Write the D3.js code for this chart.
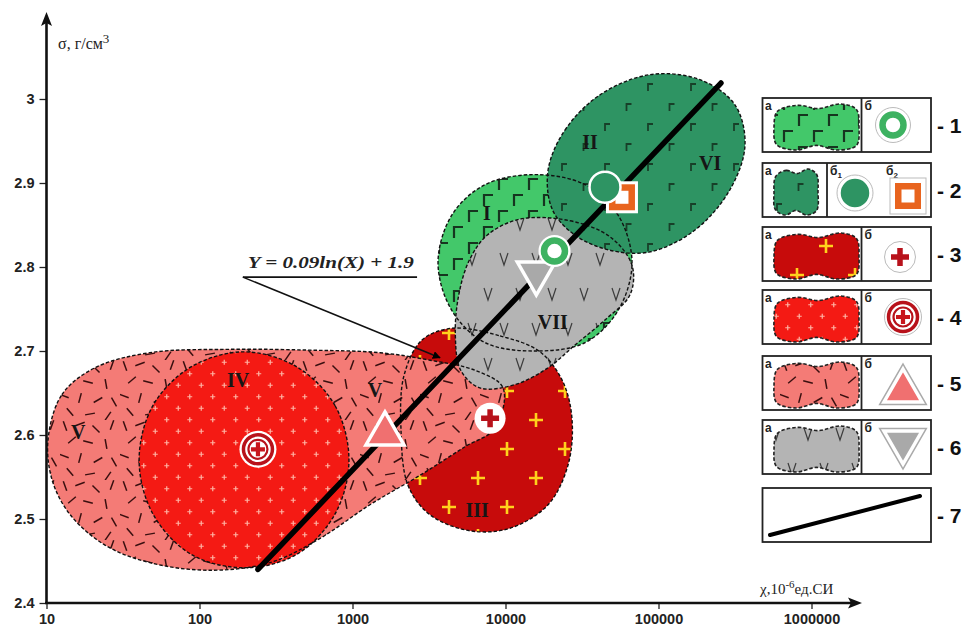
<!DOCTYPE html>
<html><head><meta charset="utf-8">
<script src="https://cdn.jsdelivr.net/npm/d3@7"></script>
<style>body{margin:0;background:#fff}svg{display:block}</style>
</head><body>
<script>
// ---------- DATA ----------
const xTicks = [10, 100, 1000, 10000, 100000, 1000000];
const xTickLabels = ["10", "100", "1000", "10000", "100000", "1000000"];
const yTicks = [2.4, 2.5, 2.6, 2.7, 2.8, 2.9, 3.0];
const yTickLabels = ["2.4", "2.5", "2.6", "2.7", "2.8", "2.9", "3"];

// region outlines [chi, sigma]
const regionIII = [[4467,2.727],[9200,2.718],[16800,2.699],[23770,2.663],[27230,2.618],[25600,2.564],[18970,2.517],[10690,2.489],[5860,2.486],[3213,2.505],[2306,2.540],[2075,2.606],[2172,2.671],[2845,2.713]];
const regionV = [[10.23,2.594],[12.6,2.648],[20.7,2.680],[47.4,2.698],[158,2.702],[527,2.701],[1514,2.698],[3213,2.689],[6323,2.677],[9640,2.656],[8530,2.608],[5430,2.586],[2762,2.552],[1300,2.517],[614,2.477],[289,2.448],[117,2.439],[47.4,2.448],[24.1,2.469],[14.3,2.505],[10.9,2.546]];
const regionIV = [[948,2.570],[769,2.635],[433,2.681],[195,2.699],[88,2.681],[49.6,2.635],[40.3,2.570],[49.6,2.506],[88,2.458],[195,2.442],[433,2.458],[769,2.506]];
const regionI = [[67140,2.805],[54330,2.862],[33130,2.898],[15600,2.910],[7350,2.898],[4467,2.862],[3622,2.805],[4467,2.748],[7350,2.710],[15600,2.700],[33130,2.710],[54330,2.748]];
const regionVII = [[12440,2.857],[26420,2.855],[48170,2.836],[67140,2.802],[65150,2.767],[44670,2.737],[28440,2.707],[18970,2.680],[11530,2.660],[6810,2.656],[5100,2.677],[4700,2.719],[4950,2.767],[5800,2.808],[7600,2.838]];
const regionVI = [[18970,2.915],[24470,2.963],[41470,3.005],[87900,3.029],[186700,3.023],[316000,2.993],[367500,2.945],[293000,2.892],[173300,2.844],[87900,2.818],[48170,2.820],[28440,2.838],[20280,2.868]];

// region numerals
const romanText = ["I", "II", "VI", "VII", "III", "IV", "V", "V"];
const romanChi = [7570, 35640, 217300, 20400, 6520, 178.6, 16.1, 1403];
const romanSigma = [2.864, 2.949, 2.924, 2.735, 2.511, 2.665, 2.604, 2.654];

// point symbols [chi, sigma]
const point1b = [20900, 2.819];
const point2b1 = [44700, 2.895];
const point2b2 = [57700, 2.883];
const point3b = [7930, 2.620];
const point4b = [241, 2.583];
const point5b = [1630, 2.606];
const point6b = [15900, 2.788];

// regression line Y = 0.09ln(X) + 1.9 (as drawn)
const trendChi = [241, 255900];
const trendSigma = [2.44, 3.019];
const formulaText = "Y = 0.09ln(X) + 1.9";
const formulaAnchor = [192, 2.788];
const formulaEnd = [2642, 2.788];
const formulaTarget = [3733, 2.692];

const legendNumbers = ["- 1", "- 2", "- 3", "- 4", "- 5", "- 6", "- 7"];

// ---------- COLOURS ----------
const C = {
  lgreen: "#43C86A", dgreen: "#2E9463", gray: "#B4B4B4", pink: "#F47B76",
  red: "#F41A14", dred: "#C70B0B", orange: "#E8641E", mred: "#B8121B",
  ring: "#3DB261"
};

// ---------- SETUP ----------
const svg = d3.select("body").append("svg").attr("width", 973).attr("height", 630);
const x = d3.scaleLog().domain([10, 1e6]).range([46.5, 811.5]);
const y = d3.scaleLinear().domain([2.4, 3.0]).range([603, 99]);
const defs = svg.append("defs");

function pattern(id, w, h, bg) {
  const p = defs.append("pattern").attr("id", id).attr("patternUnits", "userSpaceOnUse")
    .attr("width", w).attr("height", h);
  p.append("rect").attr("width", w).attr("height", h).attr("fill", bg);
  return p;
}
{
  const p = pattern("pI", 30, 32, C.lgreen);
  [[4, 3], [19, 19]].forEach(([a, b]) => p.append("path")
    .attr("d", `M${a},${b + 11}V${b}H${a + 9}`).attr("fill", "none")
    .attr("stroke", "#16351f").attr("stroke-width", 2.2));
}
{
  const p = pattern("pVI", 43, 40, C.dgreen);
  [[3, 4], [24.5, 24]].forEach(([a, b]) => p.append("path")
    .attr("d", `M${a},${b + 7}V${b}H${a + 5}`).attr("fill", "none")
    .attr("stroke", "#173f28").attr("stroke-width", 1.8));
}
{
  const p = pattern("pVII", 32, 70, C.gray);
  [[4, 8], [20, 43]].forEach(([a, b]) => p.append("path")
    .attr("d", `M${a},${b}L${a + 4},${b + 12}L${a + 8},${b}`).attr("fill", "none")
    .attr("stroke", "#3b3b3b").attr("stroke-width", 1.2));
}
{
  const p = pattern("pIII", 58, 58, C.dred);
  [[14, 14], [43, 43]].forEach(([a, b]) => p.append("path")
    .attr("d", `M${a - 7},${b}H${a + 7}M${a},${b - 7}V${b + 7}`)
    .attr("stroke", "#FFD21C").attr("stroke-width", 2.6));
}
{
  const p = pattern("pIV", 23, 23, C.red);
  [[5.75, 5.75], [17.25, 17.25]].forEach(([a, b]) => p.append("path")
    .attr("d", `M${a - 2.5},${b}H${a + 2.5}M${a},${b - 2.5}V${b + 2.5}`)
    .attr("stroke", "#FFB3A3").attr("stroke-width", 1.2));
}
{
  const p = pattern("pV", 60, 60, C.pink);
  const dashes = [[5,6,70],[20,4,-20],[36,9,45],[52,5,-70],[12,20,-40],[28,22,15],[46,24,80],
    [4,36,20],[20,38,-75],[38,40,-30],[54,42,60],[10,52,50],[30,54,-10],[48,56,-55]];
  dashes.forEach(([a, b, ang]) => p.append("line")
    .attr("x1", -5).attr("x2", 5).attr("y1", 0).attr("y2", 0)
    .attr("transform", `translate(${a},${b}) rotate(${ang})`)
    .attr("stroke", "#3a0f0f").attr("stroke-width", 1.5));
}
defs.append("marker").attr("id", "arr").attr("viewBox", "0 0 10 10").attr("refX", 9).attr("refY", 5)
  .attr("markerWidth", 8).attr("markerHeight", 8).attr("markerUnits", "userSpaceOnUse").attr("orient", "auto")
  .append("path").attr("d", "M0,0L10,5L0,10z").attr("fill", "#000");

// ---------- REGIONS ----------
const area = d3.line().x(d => x(d[0])).y(d => y(d[1])).curve(d3.curveCatmullRomClosed.alpha(0.5));
const regions = [
  [regionIII, "url(#pIII)"], [regionV, "url(#pV)"], [regionIV, "url(#pIV)"],
  [regionI, "url(#pI)"], [regionVII, "url(#pVII)"], [regionVI, "url(#pVI)"]
];
const gR = svg.append("g");
regions.forEach(([pts, f]) => gR.append("path").attr("d", area(pts)).attr("fill", f));
regions.forEach(([pts]) => gR.append("path").attr("d", area(pts)).attr("fill", "none")
  .attr("stroke", "#111").attr("stroke-width", 1.4).attr("stroke-dasharray", "3.5,2"));

svg.append("g").selectAll("text").data(romanText).join("text")
  .attr("x", (d, i) => x(romanChi[i])).attr("y", (d, i) => y(romanSigma[i]))
  .attr("text-anchor", "middle").attr("dominant-baseline", "central")
  .attr("font-family", "Liberation Serif, serif").attr("font-weight", "bold").attr("font-size", 20)
  .attr("fill", "#161616").text(d => d);

svg.append("line").attr("x1", x(trendChi[0])).attr("y1", y(trendSigma[0]))
  .attr("x2", x(trendChi[1])).attr("y2", y(trendSigma[1]))
  .attr("stroke", "#000").attr("stroke-width", 5.5).attr("stroke-linecap", "round");

svg.append("text").attr("x", x(formulaAnchor[0]) + 5).attr("y", y(formulaAnchor[1]) - 9)
  .attr("font-family", "Liberation Serif, serif").attr("font-weight", "bold").attr("font-style", "italic")
  .attr("font-size", 17).attr("textLength", 166).attr("lengthAdjust", "spacingAndGlyphs")
  .attr("fill", "#222").text(formulaText);
svg.append("line").attr("x1", x(formulaAnchor[0])).attr("y1", y(formulaAnchor[1]))
  .attr("x2", x(formulaEnd[0])).attr("y2", y(formulaEnd[1])).attr("stroke", "#111").attr("stroke-width", 1.6);
svg.append("line").attr("x1", x(formulaAnchor[0])).attr("y1", y(formulaAnchor[1]))
  .attr("x2", x(formulaTarget[0])).attr("y2", y(formulaTarget[1])).attr("stroke", "#111").attr("stroke-width", 1.5)
  .attr("marker-end", "url(#arr)");

// ---------- SYMBOLS ----------
function sym1(g, outline) {
  if (outline) g.append("circle").attr("r", 17.5).attr("fill", "#fff").attr("stroke", "#bbb").attr("stroke-width", 1);
  g.append("circle").attr("r", 16).attr("fill", "#fff");
  g.append("circle").attr("r", 10.5).attr("fill", "#fff").attr("stroke", C.ring).attr("stroke-width", 6.5);
}
function sym2a(g, outline) {
  if (outline) g.append("circle").attr("r", 18).attr("fill", "#fff").attr("stroke", "#bbb").attr("stroke-width", 1);
  g.append("circle").attr("r", 15.5).attr("fill", C.dgreen).attr("stroke", "#fff").attr("stroke-width", 2.5);
}
function sym2b(g, outline) {
  if (outline) g.append("rect").attr("x", -18).attr("y", -18).attr("width", 36).attr("height", 36)
    .attr("fill", "#fff").attr("stroke", "#bbb").attr("stroke-width", 1);
  g.append("rect").attr("x", -16).attr("y", -16).attr("width", 32).attr("height", 32).attr("fill", "#fff");
  g.append("rect").attr("x", -13).attr("y", -13).attr("width", 26).attr("height", 26).attr("fill", C.orange);
  g.append("rect").attr("x", -6.5).attr("y", -6.5).attr("width", 13).attr("height", 13).attr("fill", "#fff");
}
function sym3(g, outline) {
  g.append("circle").attr("r", 15.5).attr("fill", "#fff").attr("stroke", outline ? "#bbb" : "none").attr("stroke-width", 1);
  g.append("path").attr("d", "M-9,0H9M0,-9V9").attr("stroke", C.mred).attr("stroke-width", 5.5);
}
function sym4(g, outline) {
  g.append("circle").attr("r", 18.5).attr("fill", "#fff").attr("stroke", outline ? "#bbb" : "none").attr("stroke-width", 1);
  g.append("circle").attr("r", 14.5).attr("fill", "#fff").attr("stroke", C.mred).attr("stroke-width", 3.5);
  g.append("circle").attr("r", 9.5).attr("fill", "#fff").attr("stroke", C.mred).attr("stroke-width", 2.2);
  g.append("path").attr("d", "M-7,0H7M0,-7V7").attr("stroke", "#C8161D").attr("stroke-width", 4.2);
}
function sym5(g, outline) {
  const d = "M0,-18L19,15L-19,15Z";
  if (outline) g.append("path").attr("d", d).attr("fill", "none").attr("stroke", "#aaa").attr("stroke-width", 6.5).attr("stroke-linejoin", "miter");
  g.append("path").attr("d", d).attr("fill", "#F07070").attr("stroke", "#fff").attr("stroke-width", 3.5).attr("stroke-linejoin", "miter");
}
function sym6(g, outline) {
  const d = "M-19,-15L19,-15L0,18Z";
  if (outline) g.append("path").attr("d", d).attr("fill", "none").attr("stroke", "#aaa").attr("stroke-width", 6.5).attr("stroke-linejoin", "miter");
  g.append("path").attr("d", d).attr("fill", "#A9A9A9").attr("stroke", "#fff").attr("stroke-width", 3.5).attr("stroke-linejoin", "miter");
}
function place(p, fn) {
  const g = svg.append("g").attr("transform", `translate(${x(p[0])},${y(p[1])})`);
  fn(g, false);
}
place(point5b, sym5);
place(point4b, sym4);
place(point3b, sym3);
place(point6b, sym6);
place(point1b, sym1);
place(point2b2, sym2b);
place(point2b1, sym2a);

// ---------- AXES ----------
const axisFont = "Liberation Sans, Arial, sans-serif";
const minorX = [];
xTicks.slice(0, -1).forEach(d => { for (let k = 2; k <= 9; k++) minorX.push(d * k); });
const gx = svg.append("g").attr("transform", "translate(0,603)");
gx.call(d3.axisBottom(x).tickValues(minorX).tickSize(4).tickFormat(""));
gx.call(d3.axisBottom(x).tickValues(xTicks).tickSize(6).tickPadding(5).tickFormat((d, i) => xTickLabels[i]));
const minorY = d3.range(241, 306).filter(v => v % 10 !== 0).map(v => v / 100);
const gy = svg.append("g").attr("transform", "translate(46.5,0)");
gy.call(d3.axisLeft(y).tickValues(minorY).tickSize(4).tickFormat(""));
gy.call(d3.axisLeft(y).tickValues(yTicks).tickSize(7).tickPadding(5).tickFormat((d, i) => yTickLabels[i]));
svg.selectAll(".domain").remove();
svg.selectAll(".tick line").attr("stroke", "#222").attr("stroke-width", 1.3);
svg.selectAll(".tick text").attr("font-family", axisFont).attr("font-weight", "bold")
  .attr("font-size", 14.5).attr("fill", "#222");

svg.append("line").attr("x1", 46.5).attr("y1", 604).attr("x2", 46.5).attr("y2", 22).attr("stroke", "#111").attr("stroke-width", 2.6);
svg.append("path").attr("d", "M46.5,12L52,26L46.5,23L41,26Z").attr("fill", "#111");
svg.append("line").attr("x1", 45).attr("y1", 603).attr("x2", 852).attr("y2", 603).attr("stroke", "#111").attr("stroke-width", 2.6);
svg.append("path").attr("d", "M862,603L848,597.5L851,603L848,608.5Z").attr("fill", "#111");

const yt = svg.append("text").attr("x", 58).attr("y", 49).attr("font-family", "Liberation Serif, serif")
  .attr("font-size", 16).attr("fill", "#222");
yt.append("tspan").text("σ, г/см");
yt.append("tspan").attr("dy", -6).attr("font-size", 13).text("3");
const xt = svg.append("text").attr("x", 760).attr("y", 594).attr("font-family", "Liberation Serif, serif")
  .attr("font-size", 15).attr("fill", "#222");
xt.append("tspan").text("χ,10");
xt.append("tspan").attr("dy", -6).attr("font-size", 11).text("-6");
xt.append("tspan").attr("dy", 6).text("ед.СИ");

// ---------- LEGEND ----------
const rowTop = [98, 163, 227, 290, 356, 420, 488];
const swFill = ["url(#pI)", "url(#pVI)", "url(#pIII)", "url(#pIV)", "url(#pV)", "url(#pVII)"];
const blobShape = [[0.04,0.16],[0.28,0.03],[0.52,0.1],[0.78,0.0],[0.97,0.12],[1.0,0.5],[0.97,0.9],[0.74,1.0],[0.5,0.9],[0.26,1.0],[0.03,0.88],[0.0,0.52]];
function blob(x0, y0, w, h) {
  return d3.line().curve(d3.curveCatmullRomClosed.alpha(0.5))(blobShape.map(([a, b]) => [x0 + a * w, y0 + b * h]));
}
const gL = svg.append("g");
const lf = "Liberation Sans, Arial, sans-serif";
rowTop.forEach((t, i) => {
  const g = gL.append("g");
  g.append("rect").attr("x", 762.5).attr("y", t).attr("width", 168.5).attr("height", 54)
    .attr("fill", "#fff").attr("stroke", "#222").attr("stroke-width", 1.8);
  g.append("text").attr("x", 937).attr("y", t + 35).attr("font-family", lf).attr("font-weight", "bold")
    .attr("font-size", 21).attr("fill", "#111").text(legendNumbers[i]);
  if (i === 6) {
    g.append("line").attr("x1", 770).attr("y1", t + 47).attr("x2", 920).attr("y2", t + 8)
      .attr("stroke", "#000").attr("stroke-width", 4).attr("stroke-linecap", "round");
    return;
  }
  const div = i === 1 ? 827 : 861.5;
  g.append("line").attr("x1", div).attr("x2", div).attr("y1", t).attr("y2", t + 54).attr("stroke", "#222").attr("stroke-width", 1.8);
  const bw = i === 1 ? 44 : 85;
  const bp = blob(774, t + 6, bw, 46);
  g.append("path").attr("d", bp).attr("fill", swFill[i]);
  g.append("path").attr("d", bp).attr("fill", "none").attr("stroke", "#222").attr("stroke-width", 1.6).attr("stroke-dasharray", "3.5,2");
  g.append("text").attr("x", 765).attr("y", t + 12).attr("font-family", lf).attr("font-weight", "bold")
    .attr("font-size", 12).attr("fill", "#222").text("а");
  const bt = g.append("text").attr("x", div + 3).attr("y", t + 12).attr("font-family", lf).attr("font-weight", "bold")
    .attr("font-size", 12).attr("fill", "#222");
  bt.append("tspan").text("б");
  if (i === 1) {
    bt.append("tspan").attr("dy", 3).attr("font-size", 8).text("1");
    const b2 = g.append("text").attr("x", 886).attr("y", t + 12).attr("font-family", lf).attr("font-weight", "bold")
      .attr("font-size", 12).attr("fill", "#222");
    b2.append("tspan").text("б");
    b2.append("tspan").attr("dy", 3).attr("font-size", 8).text("2");
    sym2a(g.append("g").attr("transform", `translate(855,${t + 30})`), true);
    sym2b(g.append("g").attr("transform", `translate(908,${t + 33})`), true);
  } else {
    const fns = [sym1, null, sym3, sym4, sym5, sym6];
    const cy = [27, 0, 30, 27, 31, 26][i];
    const cx = [893, 0, 900, 903, 903, 903][i];
    fns[i](g.append("g").attr("transform", `translate(${cx},${t + cy})`), true);
  }
});
</script>
</body></html>
